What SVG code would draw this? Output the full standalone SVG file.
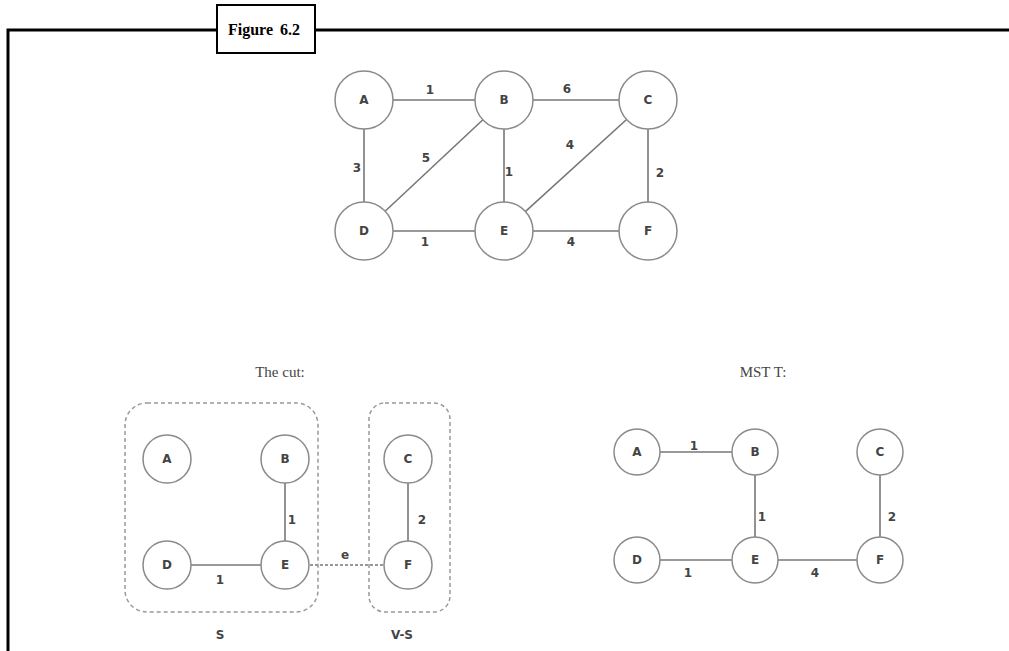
<svg xmlns="http://www.w3.org/2000/svg" width="1009" height="651" viewBox="0 0 1009 651">
<style>
.frame{fill:none;stroke:#000;stroke-width:3}
.node circle{fill:#fff;stroke:#8a8a8a;stroke-width:1.5}
.node text{font-family:"DejaVu Sans","Liberation Sans",sans-serif;font-size:12px;font-weight:bold;fill:#444;text-anchor:middle;dominant-baseline:central}
.edge{stroke:#777;stroke-width:1.6;fill:none}
.lbl{font-family:"DejaVu Sans","Liberation Sans",sans-serif;font-size:12px;font-weight:bold;fill:#444;text-anchor:middle;dominant-baseline:central}
.title{font-family:"Liberation Serif",serif;font-size:15px;fill:#444;text-anchor:middle}
.cut{fill:none;stroke:#999;stroke-width:1.5;stroke-dasharray:4 3}
</style>
<rect width="1009" height="651" fill="#fff"/>
<g id="frame">
<polyline class="frame" points="8,651 8,30 217,30"/>
<line class="frame" x1="315" y1="30" x2="1009" y2="30"/>
<rect x="217" y="5" width="98" height="48" fill="#fff" stroke="#000" stroke-width="2"/>
<text x="264" y="35" font-family="Liberation Serif,serif" font-weight="bold" font-size="16" text-anchor="middle" word-spacing="3">Figure 6.2</text>
</g>
<g id="connectors">
<line class="edge" x1="364" y1="100" x2="504" y2="100"/>
<line class="edge" x1="504" y1="100" x2="648" y2="100"/>
<line class="edge" x1="364" y1="100" x2="364" y2="231"/>
<line class="edge" x1="364" y1="231" x2="504" y2="100"/>
<line class="edge" x1="504" y1="100" x2="504" y2="231"/>
<line class="edge" x1="504" y1="231" x2="648" y2="100"/>
<line class="edge" x1="648" y1="100" x2="648" y2="231"/>
<line class="edge" x1="364" y1="231" x2="504" y2="231"/>
<line class="edge" x1="504" y1="231" x2="648" y2="231"/>
<line class="edge" x1="285" y1="459" x2="285" y2="565"/>
<line class="edge" x1="167" y1="565" x2="285" y2="565"/>
<line class="edge" x1="408" y1="459" x2="408" y2="565"/>
<line class="edge" x1="285" y1="565" x2="408" y2="565" stroke-dasharray="3 2"/>
<line class="edge" x1="637" y1="452" x2="755" y2="452"/>
<line class="edge" x1="755" y1="452" x2="755" y2="560"/>
<line class="edge" x1="637" y1="560" x2="755" y2="560"/>
<line class="edge" x1="755" y1="560" x2="880" y2="560"/>
<line class="edge" x1="880" y1="452" x2="880" y2="560"/>
<text class="lbl" x="430" y="90">1</text>
<text class="lbl" x="567" y="89">6</text>
<text class="lbl" x="357" y="168">3</text>
<text class="lbl" x="426" y="158">5</text>
<text class="lbl" x="509" y="172">1</text>
<text class="lbl" x="570" y="145">4</text>
<text class="lbl" x="660" y="173">2</text>
<text class="lbl" x="425" y="242">1</text>
<text class="lbl" x="571" y="242">4</text>
<text class="lbl" x="292" y="520">1</text>
<text class="lbl" x="422" y="520">2</text>
<text class="lbl" x="220" y="580">1</text>
<text class="lbl" x="345" y="555">e</text>
<text class="lbl" x="694" y="446">1</text>
<text class="lbl" x="762" y="517">1</text>
<text class="lbl" x="892" y="517">2</text>
<text class="lbl" x="688" y="573">1</text>
<text class="lbl" x="815" y="573">4</text>
</g>
<g id="top-graph">
<g id="tA" class="node"><circle cx="364" cy="100" r="29"/><text x="364" y="100">A</text></g>
<g id="tB" class="node"><circle cx="504" cy="100" r="29"/><text x="504" y="100">B</text></g>
<g id="tC" class="node"><circle cx="648" cy="100" r="29"/><text x="648" y="100">C</text></g>
<g id="tD" class="node"><circle cx="364" cy="231" r="29"/><text x="364" y="231">D</text></g>
<g id="tE" class="node"><circle cx="504" cy="231" r="29"/><text x="504" y="231">E</text></g>
<g id="tF" class="node"><circle cx="648" cy="231" r="29"/><text x="648" y="231">F</text></g>
</g>
<g id="cut-graph">
<text class="title" x="280" y="377">The cut:</text>
<rect id="setS" class="cut" x="125" y="403" width="193" height="209" rx="22"/>
<rect id="setVS" class="cut" x="369" y="403" width="81" height="209" rx="16"/>
<g id="cA" class="node"><circle cx="167" cy="459" r="24"/><text x="167" y="459">A</text></g>
<g id="cB" class="node"><circle cx="285" cy="459" r="24"/><text x="285" y="459">B</text></g>
<g id="cC" class="node"><circle cx="408" cy="459" r="24"/><text x="408" y="459">C</text></g>
<g id="cD" class="node"><circle cx="167" cy="565" r="24"/><text x="167" y="565">D</text></g>
<g id="cE" class="node"><circle cx="285" cy="565" r="24"/><text x="285" y="565">E</text></g>
<g id="cF" class="node"><circle cx="408" cy="565" r="24"/><text x="408" y="565">F</text></g>
<text class="lbl" x="220" y="635">S</text>
<text class="lbl" x="402" y="635">V-S</text>
</g>
<g id="mst-graph">
<text class="title" x="763" y="377">MST T:</text>
<g id="mA" class="node"><circle cx="637" cy="452" r="23"/><text x="637" y="452">A</text></g>
<g id="mB" class="node"><circle cx="755" cy="452" r="23"/><text x="755" y="452">B</text></g>
<g id="mC" class="node"><circle cx="880" cy="452" r="23"/><text x="880" y="452">C</text></g>
<g id="mD" class="node"><circle cx="637" cy="560" r="23"/><text x="637" y="560">D</text></g>
<g id="mE" class="node"><circle cx="755" cy="560" r="23"/><text x="755" y="560">E</text></g>
<g id="mF" class="node"><circle cx="880" cy="560" r="23"/><text x="880" y="560">F</text></g>
</g>
</svg>
